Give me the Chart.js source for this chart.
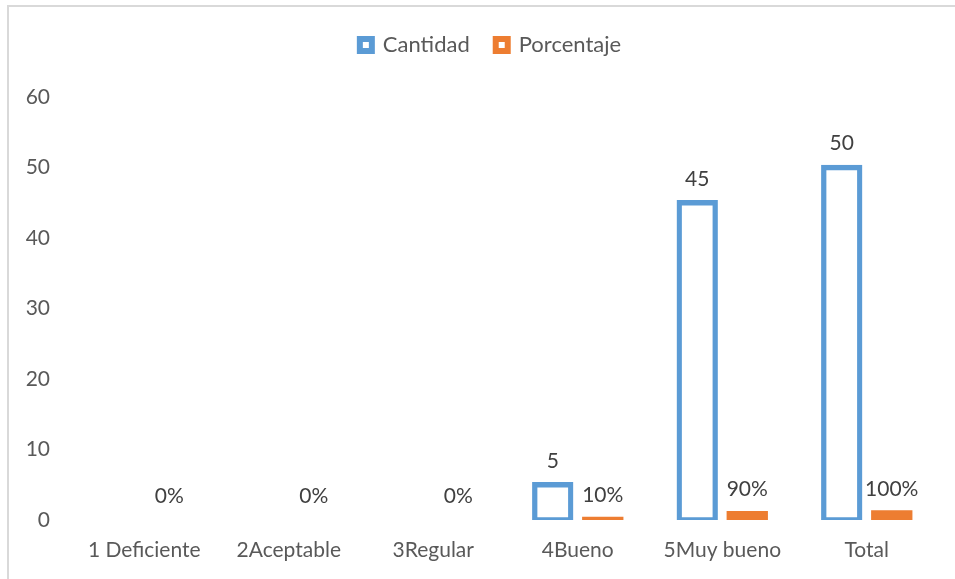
<!DOCTYPE html>
<html>
<head>
<meta charset="utf-8">
<script src="https://cdn.jsdelivr.net/npm/chart.js@4.4.1/dist/chart.umd.min.js"></script>
<style>
  html, body { margin: 0; padding: 0; background: #fff; }
  #wrap { position: relative; width: 955px; height: 579px; }
  #frame { position: absolute; left: 7px; top: 5px; right: 0; bottom: 0;
           border-top: 2px solid #d9d9d9; border-left: 2px solid #d9d9d9; pointer-events: none; }
</style>
</head>
<body>
<div id="wrap">
  <canvas id="barChart" width="955" height="579"></canvas>
  <div id="frame"></div>
</div>
<script>
var categories = ['1 Deficiente', '2Aceptable', '3Regular', '4Bueno', '5Muy bueno', 'Total'];
var cantidad = [0, 0, 0, 5, 45, 50];
var porcentaje = [0, 0, 0, 0.1, 0.9, 1];
var yTicks = {min: 0, max: 60, step: 10};

var blue = '#5B9BD5';
var orange = '#ED7D31';
var font = 'Lato';

// value labels above the bars (Excel style)
var barLabels = {
  id: 'barLabels',
  afterDatasetsDraw: function(chart) {
    var ctx = chart.ctx;
    ctx.save();
    ctx.font = '21px ' + font;
    ctx.fillStyle = '#404040';
    ctx.textAlign = 'center';
    ctx.textBaseline = 'middle';
    chart.data.datasets.forEach(function(ds, i) {
      chart.getDatasetMeta(i).data.forEach(function(el, j) {
        var v = ds.data[j];
        if (i === 0 && v === 0) return;
        var txt = i === 0 ? String(v) : Math.round(v * 100) + '%';
        ctx.fillText(txt, el.x, el.y - 24);
      });
    });
    ctx.restore();
  }
};

var ctx = document.getElementById('barChart').getContext('2d');
var chart = new Chart(ctx, {
  type: 'bar',
  data: {
    labels: categories,
    datasets: [{
      label: 'Cantidad',
      data: cantidad,
      backgroundColor: '#ffffff',
      borderColor: blue,
      borderWidth: 5.3,
      borderSkipped: false,
      inflateAmount: 2.65
    }, {
      label: 'Porcentaje',
      data: porcentaje,
      backgroundColor: orange,
      borderWidth: 0,
      inflateAmount: function(c) { return c.raw > 0 ? 2.65 : 0; }
    }]
  },
  options: {
    responsive: false,
    animation: false,
    categoryPercentage: 0.6925,
    barPercentage: 0.72,
    layout: { padding: { top: 8, right: 0, bottom: 0, left: 26 } },
    plugins: {
      tooltip: { enabled: false },
      // empty spacer between legend and plot
      title: { display: true, text: '', weight: 500, padding: 0, font: { size: 10, lineHeight: '31px' } },
      legend: {
        position: 'top',
        labels: {
          color: '#595959',
          font: { family: font, size: 22 },
          boxWidth: 12,
          boxHeight: 12,
          padding: 26,
          generateLabels: function(chart) {
            return chart.data.datasets.map(function(ds, i) {
              return {
                text: ds.label,
                fillStyle: '#ffffff',
                strokeStyle: i === 0 ? blue : orange,
                lineWidth: 6,
                fontColor: '#595959',
                datasetIndex: i
              };
            });
          }
        }
      }
    },
    scales: {
      x: {
        grid: { display: false, drawTicks: false },
        border: { display: false },
        ticks: { color: '#595959', font: { family: font, size: 21 }, padding: 18, maxRotation: 0 },
        afterFit: function(scale) { scale.height = 59; }
      },
      y: {
        min: yTicks.min,
        max: yTicks.max,
        grid: { display: false, drawTicks: false },
        border: { display: false },
        ticks: { stepSize: yTicks.step, color: '#595959', font: { family: font, size: 21 }, padding: 22 },
        afterFit: function(scale) { scale.width = 46; }
      },
      // blank right margin
      yRight: {
        position: 'right',
        min: yTicks.min,
        max: yTicks.max,
        grid: { display: false, drawTicks: false },
        border: { display: false },
        ticks: { display: false },
        afterFit: function(scale) { scale.width = 16; }
      }
    }
  },
  plugins: [barLabels]
});
</script>
</body>
</html>
